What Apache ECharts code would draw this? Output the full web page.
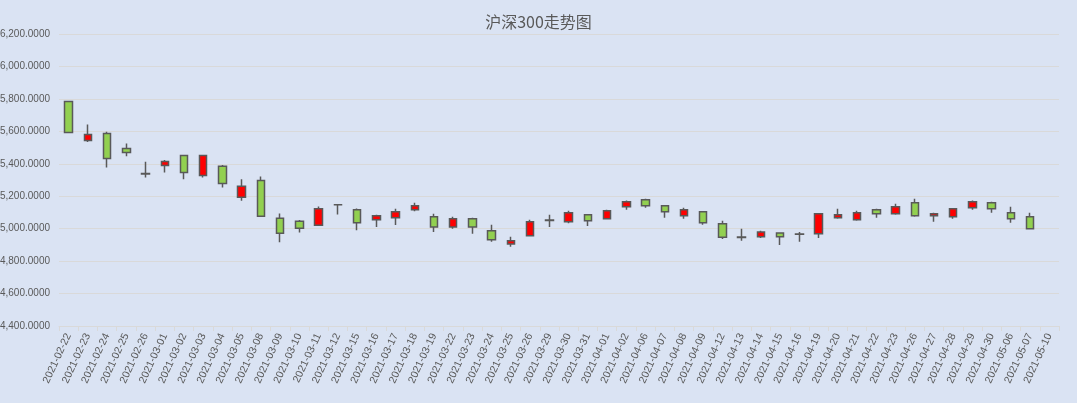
<!DOCTYPE html>
<html>
<head>
<meta charset="utf-8">
<script src="https://cdn.jsdelivr.net/npm/echarts@6/dist/echarts.min.js"></script>
<style>
html,body{margin:0;padding:0;background:#dae3f3;}
#chart{width:1077px;height:403px;}
</style>
</head>
<body>
<div id="chart"></div>
<script>
const dates = ['2021-02-22','2021-02-23','2021-02-24','2021-02-25','2021-02-26','2021-03-01','2021-03-02','2021-03-03','2021-03-04','2021-03-05','2021-03-08','2021-03-09','2021-03-10','2021-03-11','2021-03-12','2021-03-15','2021-03-16','2021-03-17','2021-03-18','2021-03-19','2021-03-22','2021-03-23','2021-03-24','2021-03-25','2021-03-26','2021-03-29','2021-03-30','2021-03-31','2021-04-01','2021-04-02','2021-04-06','2021-04-07','2021-04-08','2021-04-09','2021-04-12','2021-04-13','2021-04-14','2021-04-15','2021-04-16','2021-04-19','2021-04-20','2021-04-21','2021-04-22','2021-04-23','2021-04-26','2021-04-27','2021-04-28','2021-04-29','2021-04-30','2021-05-06','2021-05-07','2021-05-10'];
const opens  = [5784,5544,5587,5494,5340,5390,5451,5328,5384,5193,5297,5064,5045,5021,5148,5117,5055,5067,5117,5073,5011,5061,4987,4906,4956,5051,5042,5086,5061,5135,5178,5141,5079,5104,5030,4948,4950,4974,4965,4968,5067,5055,5117,5092,5160,5079,5073,5129,5160,5098,5073,null];
const closes = [5593,5580,5433,5470,5337,5414,5347,5451,5279,5261,5076,4971,5002,5123,5147,5036,5079,5104,5141,5011,5061,5011,4931,4925,5042,5053,5098,5049,5110,5166,5141,5104,5117,5036,4947,4946,4980,4950,4967,5092,5086,5098,5092,5135,5079,5092,5123,5166,5123,5061,4999,null];
const lows   = [5590,5535,5377,5447,5316,5347,5304,5316,5254,5172,5074,4916,4977,5020,5088,4991,5011,5022,5108,4980,4999,4968,4919,4888,4955,5011,5034,5016,5060,5117,5129,5067,5061,5024,4937,4925,4943,4900,4919,4943,5061,5049,5067,5086,5073,5042,5061,5117,5098,5036,4999,null];
const highs  = [5786,5642,5597,5525,5412,5423,5452,5452,5392,5304,5322,5094,5053,5137,5150,5125,5086,5123,5160,5092,5073,5067,5024,4950,5055,5086,5110,5088,5117,5174,5185,5143,5129,5106,5049,4999,4987,4975,4980,5093,5123,5110,5123,5154,5185,5098,5125,5174,5166,5135,5098,null];
const yMin = 4400, yMax = 6200, yStep = 200;
const titleText = '沪深300走势图';

const kData = dates.map((d, i) => opens[i] == null ? '-' : [opens[i], closes[i], lows[i], highs[i]]);

const chart = echarts.init(document.getElementById('chart'));
chart.setOption({
  backgroundColor: '#dae3f3',
  animation: false,
  title: {
    text: titleText,
    left: 'center',
    top: 9,
    textStyle: { fontSize: 16, fontWeight: 'normal', color: '#595959', fontFamily: 'Noto Sans CJK SC' }
  },
  grid: { left: 59, right: 18, top: 34, bottom: 77, containLabel: false, outerBoundsMode: 'none' },
  xAxis: {
    type: 'category',
    data: dates,
    axisLine: { lineStyle: { color: '#d9d9d9' } },
    axisTick: { show: true, lineStyle: { color: '#d9d9d9' } },
    axisLabel: { interval: 0, rotate: 65, color: '#595959', fontSize: 10.5, fontFamily: 'Liberation Sans' },
    splitLine: { show: false }
  },
  yAxis: {
    type: 'value',
    min: yMin, max: yMax, interval: yStep,
    axisLine: { show: false },
    axisTick: { show: false },
    axisLabel: {
      color: '#595959', fontSize: 10, fontFamily: 'Liberation Sans', margin: 9,
      formatter: v => v.toLocaleString('en-US', { minimumFractionDigits: 4, maximumFractionDigits: 4 })
    },
    splitLine: { lineStyle: { color: '#d9d9d9' } }
  },
  series: [{
    type: 'candlestick',
    data: kData,
    barWidth: 8,
    itemStyle: {
      color: '#ff0000',
      color0: '#92d050',
      borderColor: '#595959',
      borderColor0: '#595959',
      borderWidth: 1.5
    }
  }]
});
</script>
</body>
</html>
